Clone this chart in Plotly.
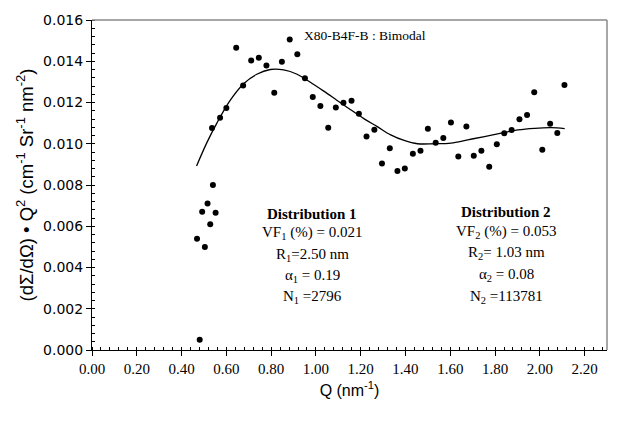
import plotly.graph_objects as go

# Measured scattering intensity, (dSigma/dOmega)*Q^2 versus Q
q_meas = [0.481, 0.469, 0.504, 0.492, 0.528, 0.516, 0.552, 0.540,
          0.536, 0.572, 0.600, 0.644, 0.675, 0.711, 0.745, 0.779, 0.814,
          0.848, 0.883, 0.917, 0.951, 0.986, 1.020, 1.055, 1.089, 1.123,
          1.159, 1.192, 1.226, 1.261, 1.295, 1.330, 1.364, 1.397, 1.433,
          1.467, 1.500, 1.535, 1.569, 1.603, 1.636, 1.672, 1.705, 1.739,
          1.774, 1.808, 1.841, 1.874, 1.909, 1.943, 1.975, 2.011, 2.046,
          2.078, 2.110]
i_meas = [0.00050, 0.00540, 0.00500, 0.00670, 0.00610, 0.00710, 0.00665, 0.00800,
          0.01076, 0.01126, 0.01173, 0.01465, 0.01283, 0.01404, 0.01417, 0.01380, 0.01247,
          0.01398, 0.01506, 0.01434, 0.01318, 0.01227, 0.01183, 0.01078, 0.01176, 0.01199,
          0.01208, 0.01145, 0.01035, 0.01068, 0.00904, 0.00978, 0.00868, 0.00880, 0.00952,
          0.00966, 0.01073, 0.01005, 0.01028, 0.01103, 0.00938, 0.01084, 0.00942, 0.00966,
          0.00888, 0.00997, 0.01051, 0.01067, 0.01119, 0.01140, 0.01250, 0.00971, 0.01097,
          0.01052, 0.01285]

# Bimodal fit curve
q_fit = [0.467, 0.512, 0.557, 0.617, 0.676, 0.736, 0.796, 0.856, 0.916, 0.975,
         1.035, 1.095, 1.155, 1.214, 1.274, 1.334, 1.394, 1.454, 1.528, 1.603,
         1.678, 1.753, 1.827, 1.902, 1.977, 2.052, 2.111]
i_fit = [0.00892, 0.01003, 0.01099, 0.01210, 0.01290, 0.01337, 0.01360, 0.01358, 0.01337, 0.01298,
         0.01255, 0.01210, 0.01165, 0.01122, 0.01083, 0.01043, 0.01016, 0.01000, 0.01000, 0.01003,
         0.01019, 0.01035, 0.01051, 0.01067, 0.01075, 0.01078, 0.01073]

x_ticks = [0.0, 0.2, 0.4, 0.6, 0.8, 1.0, 1.2, 1.4, 1.6, 1.8, 2.0, 2.2]
y_ticks = [0.000, 0.002, 0.004, 0.006, 0.008, 0.010, 0.012, 0.014, 0.016]

dist1 = ["<b>Distribution 1</b>", "VF<sub>1</sub> (%) = 0.021", "R<sub>1</sub>=2.50 nm",
         "\u03b1<sub>1</sub> = 0.19", "N<sub>1</sub> =2796"]
dist2 = ["<b>Distribution 2</b>", "VF<sub>2</sub> (%) = 0.053", "R<sub>2</sub>= 1.03 nm",
         "\u03b1<sub>2</sub> = 0.08", "N<sub>2</sub> =113781"]
dist1_y = [0.00659, 0.00568, 0.00463, 0.00358, 0.00258]
dist2_y = [0.00669, 0.00573, 0.00468, 0.00363, 0.00258]

SERIF = "Liberation Serif, Times New Roman, serif"
SANS = "Liberation Sans, Arial, sans-serif"

fig = go.Figure()
fig.add_trace(go.Scatter(x=q_fit, y=i_fit, mode="lines",
                         line=dict(color="black", width=1.3, shape="spline"),
                         showlegend=False))
fig.add_trace(go.Scatter(x=q_meas, y=i_meas, mode="markers",
                         marker=dict(color="black", size=6),
                         showlegend=False))

annotations = [dict(x=1.218, y=0.01524, xref="x", yref="y", text="X80-B4F-B : Bimodal",
                    showarrow=False, font=dict(family=SERIF, size=13.5, color="black"))]
for txt, yy in zip(dist1, dist1_y):
    annotations.append(dict(x=0.984, y=yy, xref="x", yref="y", text=txt, showarrow=False,
                            font=dict(family=SERIF, size=15, color="black")))
for txt, yy in zip(dist2, dist2_y):
    annotations.append(dict(x=1.850, y=yy, xref="x", yref="y", text=txt, showarrow=False,
                            font=dict(family=SERIF, size=15, color="black")))

fig.update_layout(
    width=627, height=421,
    margin=dict(l=92, r=20, t=14, b=71),
    paper_bgcolor="white", plot_bgcolor="white",
    annotations=annotations,
    shapes=[
        dict(type="line", xref="paper", yref="paper", x0=0, x1=1, y0=1, y1=1,
             line=dict(color="#8a8a8a", width=1.5)),
        dict(type="line", xref="paper", yref="paper", x0=1, x1=1, y0=0, y1=1,
             line=dict(color="#8a8a8a", width=1.5)),
    ],
)

fig.update_xaxes(
    range=[0, 2.30], tickvals=x_ticks, tickformat=".2f",
    showgrid=False, zeroline=False,
    showline=True, linecolor="black", linewidth=1,
    ticks="outside", ticklen=5, tickcolor="black",
    minor=dict(dtick=0.04, ticks="inside", ticklen=3, tickcolor="black", showgrid=False),
    tickfont=dict(family=SERIF, size=15, color="black"),
    title=dict(text="Q (nm<sup>-1</sup>)", font=dict(family=SANS, size=16, color="black"),
               standoff=8),
)
fig.update_yaxes(
    range=[0, 0.016], tickvals=y_ticks, tickformat=".3f",
    showgrid=False, zeroline=False,
    showline=True, linecolor="black", linewidth=1,
    ticks="outside", ticklen=5, tickcolor="black",
    minor=dict(dtick=0.0004, ticks="inside", ticklen=3, tickcolor="black", showgrid=False),
    tickfont=dict(family="DejaVu Sans, Verdana, sans-serif", size=14, color="black"),
    title=dict(text="(d\u03a3/d\u03a9) \u2022 Q<sup>2</sup> (cm<sup>-1</sup> Sr<sup>-1</sup> nm<sup>-2</sup>)",
               font=dict(family=SANS, size=18.5, color="black"), standoff=4),
)

fig.write_html("out.html")
